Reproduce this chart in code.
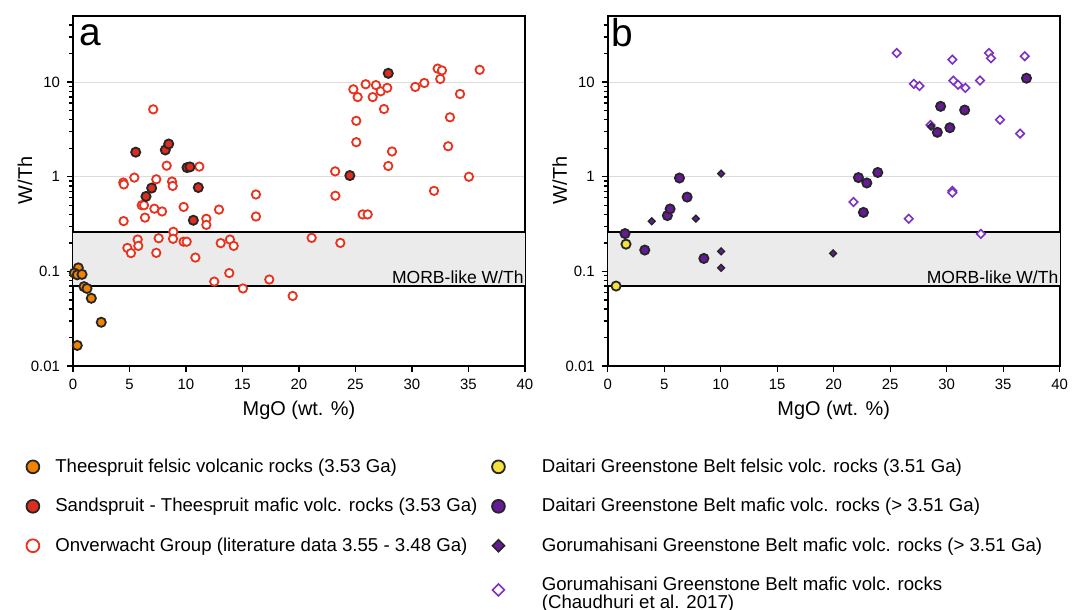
\documentclass[border=0pt]{standalone}
\usepackage{fontspec}
\setmainfont{Liberation Sans}
\usepackage{pgfplots}
\pgfplotsset{compat=1.18}

\definecolor{felsicor}{HTML}{F08300}
\definecolor{maficred}{HTML}{DC2D1E}
\definecolor{onvred}{HTML}{E8321E}
\definecolor{daityel}{HTML}{F6E03A}
\definecolor{daitpur}{HTML}{661A98}
\definecolor{chaupur}{HTML}{7D30C4}
\definecolor{morbgray}{HTML}{EBEBEB}
\definecolor{gridgray}{HTML}{DCDCDC}

\pgfplotsset{
  legend image code/.code={\path (-6bp,0bp) (6bp,0bp); \draw[#1] plot coordinates {(0bp,0bp)};},
  morb/.style={fill=morbgray, draw=none, forget plot},
  morbline/.style={black, line width=1bp, forget plot},
}
\newcommand\panelopts{%
    scale only axis, width=226bp, height=175bp, anchor=north west,
    xmin=0, xmax=40, ymin=0.01, ymax=50, ymode=log, clip=false,
    xtick={0,5,...,40},
    ytick={0.01,0.1,1,10}, yticklabels={0.01,0.1,1,10},
    minor ytick={0.02,0.03,0.04,0.05,0.06,0.07,0.08,0.09,0.2,0.3,0.4,0.5,0.6,0.7,0.8,0.9,2,3,4,5,6,7,8,9,20,30,40},
    tick align=outside, xtick pos=bottom, ytick pos=left,
    major tick length=3bp, minor tick length=2bp,
    axis line style={line width=1bp},
    every tick/.style={black, line width=0.7bp},
    ymajorgrids, grid style={gridgray, line width=0.5bp},
    /pgf/number format/assume math mode=true,
    tick label style={font=\fontsize{7.5}{9}\selectfont},
    label style={font=\fontsize{10}{12}\selectfont},
    xlabel={MgO (wt. \%)}, ylabel={W/Th},
    every axis x label/.style={at={(axis description cs:0.5,-0.128)}, anchor=center},
    every axis y label/.style={at={(axis description cs:-0.106,0.53)}, anchor=center, rotate=90},
    legend cell align=left,
    legend style={draw=none, fill=none, inner sep=0pt, anchor=north west,
      font=\fontsize{9.35}{11}\selectfont, row sep=7.5bp}}

\begin{document}
\begin{tikzpicture}
\useasboundingbox (0,0) rectangle (536.5bp,-305bp);

% ---------------- panel a ----------------
\expandafter\begin\expandafter{\expandafter a\expandafter x\expandafter i\expandafter s\expandafter}\expandafter[\panelopts, at={(36.5bp,-8bp)},
  legend style={at={(axis description cs:-0.117,-0.252)},
    /tikz/every odd column/.append style={column sep=3bp}}]
\addplot[morb] coordinates {(0,0.07) (40,0.07) (40,0.26) (0,0.26)} -- cycle;
\addplot[morbline] coordinates {(0,0.26) (40,0.26)};
\addplot[morbline] coordinates {(0,0.07) (40,0.07)};

% Onverwacht Group (open)
\addplot[only marks, mark=*, mark size=2.1bp, forget plot,
  mark options={fill=white, draw=onvred, line width=0.9bp}] coordinates {
  (7.1,5.16) (8.29,1.31) (11.18,1.28) (5.43,0.98) (4.45,0.87) (4.5,0.83)
  (7.37,0.94) (8.76,0.89) (8.82,0.80) (16.19,0.65)
  (6.08,0.50) (6.28,0.50) (7.2,0.46) (7.88,0.43) (9.79,0.48) (6.37,0.37)
  (4.48,0.34) (11.8,0.36) (11.8,0.31) (12.92,0.45) (16.19,0.38)
  (8.88,0.262) (8.85,0.221) (7.58,0.224) (5.72,0.217) (5.78,0.186) (4.81,0.177)
  (5.13,0.156) (7.37,0.157) (9.79,0.206) (10.06,0.206) (10.83,0.14) (13.07,0.199)
  (13.89,0.217) (14.22,0.186) (12.5,0.078) (13.83,0.096) (15.04,0.066) (17.37,0.082)
  (19.44,0.055) (21.12,0.226) (23.66,0.20) (23.22,0.63) (25.63,0.40) (26.08,0.40)
  (31.95,0.71) (35.04,1.0)
  (23.2,1.14) (27.9,1.30) (28.23,1.85) (25.07,2.32) (33.2,2.1) (25.07,3.9)
  (33.36,4.25) (27.52,5.2) (24.81,8.4) (25.19,6.95) (25.9,9.5) (26.52,6.95)
  (26.81,9.3) (27.23,8.0) (27.81,8.7) (30.29,8.9) (31.09,9.8) (32.27,13.9)
  (32.65,13.3) (32.5,10.8) (35.99,13.5) (34.25,7.5)
};
% Theespruit felsic
\addplot[only marks, mark=*, mark size=2.3bp, forget plot,
  mark options={fill=felsicor, draw=black!85, line width=0.9bp}] coordinates {
  (0.47,0.109) (0.12,0.096) (0.38,0.092) (0.8,0.093) (0.97,0.069) (1.24,0.066)
  (1.62,0.052) (2.5,0.029) (0.38,0.0165)
};
% Sandspruit - Theespruit mafic
\addplot[only marks, mark=*, mark size=2.3bp, forget plot,
  mark options={fill=maficred, draw=black!85, line width=0.9bp}] coordinates {
  (5.55,1.82) (8.17,1.92) (8.47,2.22) (10.09,1.25) (10.35,1.27) (11.09,0.77)
  (6.96,0.76) (6.46,0.62) (10.65,0.347) (27.9,12.4) (24.5,1.03)
};

\node[anchor=base east, inner xsep=0.5bp, yshift=1.3bp, font=\fontsize{8.8}{10}\selectfont]
  at (axis cs:40,0.07) {MORB-like W/Th};
\node[anchor=base west, inner sep=0pt, font=\fontsize{19.5}{20}\selectfont]
  at (rel axis cs:0.013,0.917) {a};

\addlegendimage{only marks, mark=*, mark size=3.2bp, mark options={fill=felsicor, draw=black!85, line width=0.9bp}}
\addlegendentry{Theespruit felsic volcanic rocks (3.53 Ga)}
\addlegendimage{only marks, mark=*, mark size=3.2bp, mark options={fill=maficred, draw=black!85, line width=0.9bp}}
\addlegendentry{Sandspruit - Theespruit mafic volc. rocks (3.53 Ga)}
\addlegendimage{only marks, mark=*, mark size=3.2bp, mark options={fill=white, draw=onvred, line width=0.9bp}}
\addlegendentry{Onverwacht Group (literature data 3.55 - 3.48 Ga)}
\end{axis}

% ---------------- panel b ----------------
\expandafter\begin\expandafter{\expandafter a\expandafter x\expandafter i\expandafter s\expandafter}\expandafter[\panelopts, at={(303.85bp,-8bp)},
  legend style={at={(axis description cs:-0.270,-0.252)},
    /tikz/every odd column/.append style={column sep=13.5bp}}]
\addplot[morb] coordinates {(0,0.07) (40,0.07) (40,0.26) (0,0.26)} -- cycle;
\addplot[morbline] coordinates {(0,0.26) (40,0.26)};
\addplot[morbline] coordinates {(0,0.07) (40,0.07)};

% Gorumahisani (Chaudhuri et al. 2017), open diamonds
\addplot[only marks, mark=square*, mark size=1.5bp, forget plot,
  mark options={rotate=45, fill=white, draw=chaupur, line width=0.8bp}] coordinates {
  (25.58,20.3) (30.5,17.3) (33.74,20.3) (33.92,17.9) (36.9,18.8) (27.09,9.6)
  (27.6,9.1) (30.59,10.4) (31.0,9.4) (31.65,8.7) (32.94,10.4) (28.57,3.53)
  (34.72,4.0) (36.49,2.86) (30.5,0.71) (30.5,0.68) (21.75,0.54) (26.65,0.36)
  (33.03,0.249)
};
% Daitari felsic
\addplot[only marks, mark=*, mark size=2.3bp, forget plot,
  mark options={fill=daityel, draw=black!85, line width=0.9bp}] coordinates {
  (1.62,0.194) (0.74,0.070)
};
% Daitari mafic
\addplot[only marks, mark=*, mark size=2.3bp, forget plot,
  mark options={fill=daitpur, draw=black!85, line width=0.9bp}] coordinates {
  (1.53,0.251) (3.28,0.168) (5.28,0.389) (5.52,0.457) (7.03,0.61) (6.35,0.97)
  (8.51,0.137) (22.19,0.98) (22.93,0.86) (23.9,1.11) (22.63,0.42) (29.46,5.55)
  (31.59,5.07) (30.28,3.3) (29.17,2.95) (37.06,11.0)
};
% Gorumahisani mafic, filled diamonds
\addplot[only marks, mark=square*, mark size=1.2bp, forget plot,
  mark options={rotate=45, fill=daitpur, draw=black!85, line width=0.7bp}] coordinates {
  (3.9,0.339) (7.8,0.361) (10.04,0.163) (10.04,0.109) (10.04,1.08) (19.95,0.155)
  (28.63,3.39)
};

\node[anchor=base east, inner xsep=0.5bp, yshift=1.3bp, font=\fontsize{8.8}{10}\selectfont]
  at (axis cs:40,0.07) {MORB-like W/Th};
\node[anchor=base west, inner sep=0pt, font=\fontsize{19.5}{20}\selectfont]
  at (rel axis cs:0.008,0.913) {b};

\addlegendimage{only marks, mark=*, mark size=3.2bp, mark options={fill=daityel, draw=black!85, line width=0.9bp}}
\addlegendentry{Daitari Greenstone Belt felsic volc. rocks (3.51 Ga)}
\addlegendimage{only marks, mark=*, mark size=3.2bp, mark options={fill=daitpur, draw=black!85, line width=0.9bp}}
\addlegendentry{Daitari Greenstone Belt mafic volc. rocks (> 3.51 Ga)}
\addlegendimage{only marks, mark=square*, mark size=2.1bp, mark options={rotate=45, fill=daitpur, draw=black!85, line width=0.8bp}}
\addlegendentry{Gorumahisani Greenstone Belt mafic volc. rocks (> 3.51 Ga)}
\addlegendimage{only marks, mark=square*, mark size=2.1bp, mark options={rotate=45, fill=white, draw=chaupur, line width=0.8bp}}
\addlegendentry{\renewcommand\arraystretch{0.75}\begin{tabular}{@{}l@{}}Gorumahisani Greenstone Belt mafic volc. rocks\\(Chaudhuri et al. 2017)\end{tabular}}
\end{axis}
\end{tikzpicture}
\end{document}
